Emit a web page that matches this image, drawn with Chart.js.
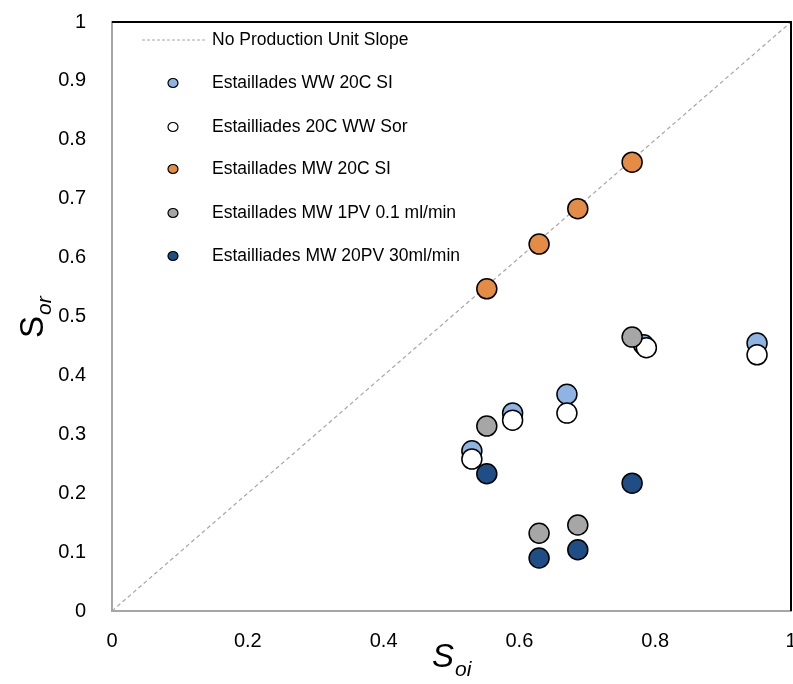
<!DOCTYPE html>
<html>
<head>
<meta charset="utf-8">
<script src="https://cdn.jsdelivr.net/npm/chart.js@4/dist/chart.umd.min.js"></script>
<style>
  html, body { margin:0; padding:0; background:#fff; }
  #wrap { width:793px; height:684px; position:relative; }
</style>
</head>
<body>
<div id="wrap"><canvas id="chart" width="793" height="684"></canvas></div>
<script>
// values
const xTicks = [0, 0.2, 0.4, 0.6, 0.8, 1];
const yTicks = [0, 0.1, 0.2, 0.3, 0.4, 0.5, 0.6, 0.7, 0.8, 0.9, 1];

const slopeX = [0, 1];
const slopeY = [0, 1];

const wwSiX = [0.53, 0.59, 0.67, 0.783, 0.95];
const wwSiY = [0.272, 0.336, 0.368, 0.452, 0.455];

const wwSorX = [0.53, 0.59, 0.67, 0.787, 0.95];
const wwSorY = [0.258, 0.324, 0.336, 0.447, 0.435];

const mwSiX = [0.552, 0.629, 0.686, 0.766];
const mwSiY = [0.547, 0.623, 0.683, 0.762];

const mw1pvX = [0.552, 0.766, 0.629, 0.686];
const mw1pvY = [0.314, 0.465, 0.132, 0.146];

const mw20pvX = [0.552, 0.766, 0.629, 0.686];
const mw20pvY = [0.233, 0.217, 0.090, 0.104];

const labels = [
  "No Production Unit Slope",
  "Estaillades WW 20C SI",
  "Estailliades 20C WW Sor",
  "Estaillades MW 20C SI",
  "Estaillades MW 1PV 0.1 ml/min",
  "Estailliades MW 20PV 30ml/min"
];
const fills = [null, "#8db4e2", "#ffffff", "#e48b45", "#a6a6a6", "#1f4e86"];

function pts(xs, ys){ return xs.map((x, i) => ({ x: x, y: ys[i] })); }

// later series sit on top, like in the original
function scatterSet(i, xs, ys){
  return {
    type: "scatter",
    label: labels[i],
    data: pts(xs, ys),
    order: 10 - i,
    backgroundColor: fills[i],
    borderColor: "#000",
    borderWidth: 1.5,
    pointRadius: 10,
    pointHoverRadius: 10
  };
}

// legend + frame + axis titles drawn on the canvas
const extras = {
  id: "extras",
  afterDraw(chart){
    const c = chart.ctx, a = chart.chartArea;
    c.save();
    // top and right frame
    c.strokeStyle = "#000";
    c.lineWidth = 2;
    c.beginPath();
    c.moveTo(a.left, a.top);
    c.lineTo(a.right, a.top);
    c.lineTo(a.right, a.bottom);
    c.stroke();

    // legend
    c.font = "17.5px 'Liberation Sans Narrow', 'Liberation Sans', sans-serif";
    c.fillStyle = "#000";
    c.textBaseline = "middle";
    c.textAlign = "left";
    const rowY = [40, 83, 127, 169, 213, 256];
    c.strokeStyle = "#a6a6a6";
    c.lineWidth = 1;
    c.setLineDash([3, 2]);
    c.beginPath();
    c.moveTo(142, rowY[0]);
    c.lineTo(206, rowY[0]);
    c.stroke();
    c.setLineDash([]);
    for (let i = 0; i < labels.length; i++){
      if (i > 0){
        c.beginPath();
        c.ellipse(173, rowY[i], 5, 4.5, 0, 0, Math.PI * 2);
        c.fillStyle = fills[i];
        c.fill();
        c.strokeStyle = "#000";
        c.lineWidth = 1.2;
        c.stroke();
      }
      c.fillStyle = "#000";
      c.fillText(labels[i], 212, rowY[i]);
    }

    // axis titles
    c.fillStyle = "#000";
    c.textBaseline = "alphabetic";
    c.font = "italic 33px 'Liberation Sans', sans-serif";
    c.fillText("S", 432, 667);
    c.font = "italic 21px 'Liberation Sans', sans-serif";
    c.fillText("oi", 455, 676);

    c.translate(43, 338);
    c.rotate(-Math.PI / 2);
    c.font = "33px 'Liberation Sans', sans-serif";
    c.fillText("S", 0, 0);
    c.font = "italic 21px 'Liberation Sans', sans-serif";
    c.fillText("or", 23, 8);
    c.restore();
  }
};

new Chart(document.getElementById("chart"), {
  data: {
    datasets: [
      {
        type: "line",
        label: labels[0],
        data: pts(slopeX, slopeY),
        order: 20,
        borderColor: "#a6a6a6",
        borderWidth: 1.2,
        borderDash: [4, 3],
        pointRadius: 0,
        fill: false
      },
      scatterSet(1, wwSiX, wwSiY),
      scatterSet(2, wwSorX, wwSorY),
      scatterSet(3, mwSiX, mwSiY),
      scatterSet(4, mw1pvX, mw1pvY),
      scatterSet(5, mw20pvX, mw20pvY)
    ]
  },
  options: {
    responsive: false,
    animation: false,
    layout: { autoPadding: false, padding: { top: 22, right: 2, left: 0, bottom: 0 } },
    plugins: { legend: { display: false }, tooltip: { enabled: false } },
    scales: {
      x: {
        type: "linear",
        min: 0, max: 1,
        afterBuildTicks: s => { s.ticks = xTicks.map(v => ({ value: v })); },
        afterFit: s => { s.height = 73; s.paddingRight = 0; s.paddingLeft = 0; },
        grid: { display: false, drawTicks: false },
        border: { color: "#a6a6a6", width: 2 },
        ticks: { color: "#000", padding: 18, callback: v => String(v),
                 font: { family: "'Liberation Sans', sans-serif", size: 20 } }
      },
      y: {
        type: "linear",
        min: 0, max: 1,
        afterBuildTicks: s => { s.ticks = yTicks.map(v => ({ value: v })); },
        afterFit: s => { s.width = 112; s.paddingTop = 0; s.paddingBottom = 0; },
        grid: { display: false, drawTicks: false },
        border: { color: "#a6a6a6", width: 2 },
        ticks: { color: "#000", padding: 26, callback: v => String(v),
                 font: { family: "'Liberation Sans', sans-serif", size: 20 } }
      }
    }
  },
  plugins: [extras]
});
</script>
</body>
</html>
